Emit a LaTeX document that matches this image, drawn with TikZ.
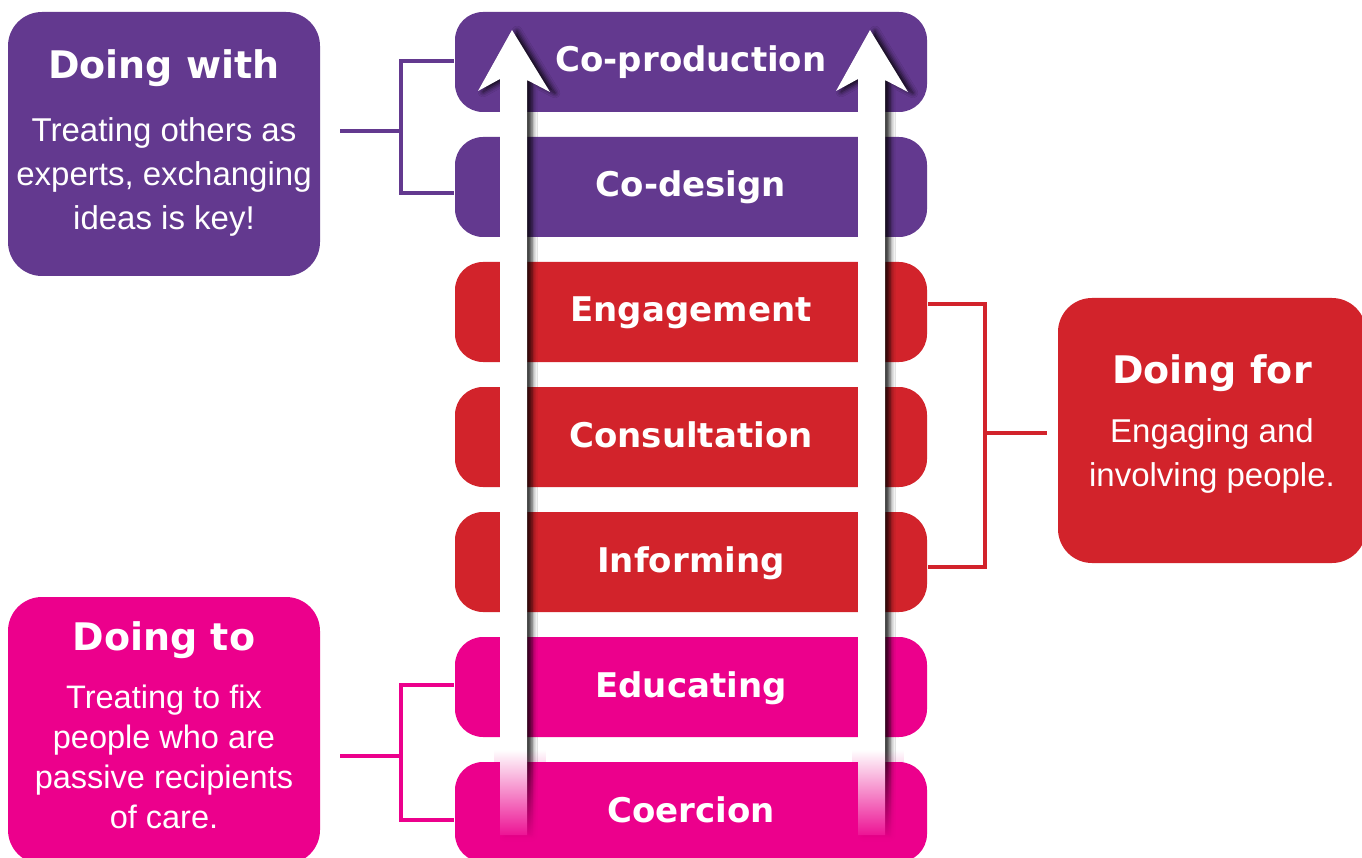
\documentclass[tikz,border=0pt]{standalone}
\usepackage{fontspec}
\setmainfont{Liberation Sans}
\newfontfamily\headfont{DejaVu Sans}
\usetikzlibrary{shadows.blur,fadings}
\definecolor{dpurple}{RGB}{99,57,143}
\definecolor{dred}{RGB}{210,35,43}
\definecolor{dpink}{RGB}{236,0,140}
\tikzset{
  rung/.style={fill=#1, rounded corners=28pt, minimum width=472pt, minimum height=100pt,
    inner sep=0pt, text=white, text height=20pt, text depth=0pt,
    font=\headfont\bfseries\fontsize{34}{40}\selectfont},
  side/.style={fill=#1, rounded corners=34pt, inner sep=0pt},
  head/.style={text=white, anchor=base, inner sep=0pt, font=\headfont\bfseries\fontsize{38}{44}\selectfont},
  body/.style={text=white, align=center, anchor=north, inner sep=0pt, font=\fontsize{33}{44}\selectfont},
  link/.style={draw=#1, line width=4pt},
  rail/.style={fill=white, blur shadow={shadow xshift=5pt, shadow yshift=-1pt,
    shadow blur radius=5pt, shadow opacity=85}}
}
\begin{document}
\begin{tikzpicture}[x=1pt,y=-1pt]
\useasboundingbox (0,0) rectangle (1362,858);
\fill[white] (0,0) rectangle (1362,858);

% ladder rungs
\foreach \name/\txt/\col/\y in {coprod/Co-production/dpurple/62, codes/Co-design/dpurple/187,
  engage/Engagement/dred/312, consult/Consultation/dred/437, inform/Informing/dred/562,
  educ/Educating/dpink/687, coerc/Coercion/dpink/812}
  \node[rung=\col] (\name) at (691,\y) {\txt};

% side boxes
\node[side=dpurple, minimum width=312pt, minimum height=264pt] (with) at (164,144) {};
\node[head] (withhead) at (164,79) {Doing with};
\node[body] (withbody) at (164,117) {Treating others as\\experts, exchanging\\ideas is key!};

\node[side=dred, minimum width=308pt, minimum height=265pt] (for) at (1212,430.5) {};
\node[head] (forhead) at (1212,383) {Doing for};
\node[body] (forbody) at (1212,418) {Engaging and\\involving people.};

\node[side=dpink, minimum width=312pt, minimum height=267pt] (to) at (164,730.5) {};
\node[head] (tohead) at (164,650) {Doing to};
\node[body, font=\fontsize{32.5}{40}\selectfont] (tobody) at (164,685) {Treating to fix\\people who are\\passive recipients\\of care.};

% brackets
\draw[link=dpurple] ([xshift=-1pt,yshift=1pt]coprod.west) -- ++(-53,0) |- ([xshift=-1pt,yshift=-6pt]codes.west);
\draw[link=dpurple] ([xshift=20pt,yshift=13pt]with.east) -- ++(62,0);
\draw[link=dred] ([xshift=1pt,yshift=8pt]engage.east) -- ++(57,0) |- ([xshift=1pt,yshift=-5pt]inform.east);
\draw[link=dred] ([xshift=-11pt,yshift=-2.5pt]for.west) -- ++(-62,0);
\draw[link=dpink] ([xshift=-1pt,yshift=2pt]educ.west) -- ++(-53,0) |- ([xshift=-1pt,yshift=-8pt]coerc.west);
\draw[link=dpink] ([xshift=20pt,yshift=-25.5pt]to.east) -- ++(62,0);

% ladder rails
\foreach \rx in {500,858}
  \fill[rail] (\rx-22,91) -- (\rx+12,30) -- (\rx+50,92) -- (\rx+27,80) -- (\rx+27,835)
    -- (\rx,835) -- (\rx,79) -- cycle;
\foreach \rx in {500,858}
  \fill[dpink, path fading=north] (\rx-6,750) rectangle (\rx+46,842);
\end{tikzpicture}
\end{document}
